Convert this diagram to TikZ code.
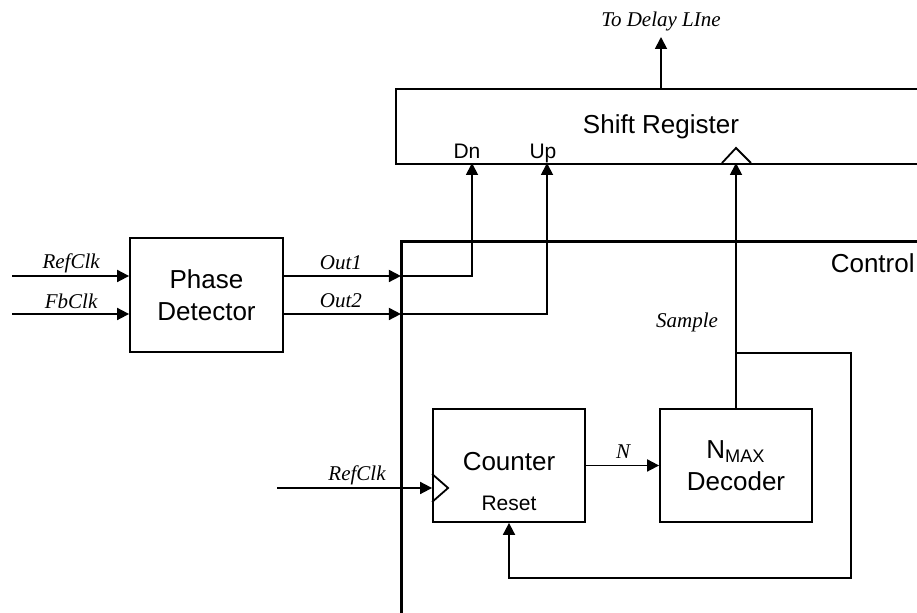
\documentclass[tikz,border=0pt]{standalone}
\usepackage{fontspec}
\setmainfont{Liberation Serif}
\setsansfont{Liberation Sans}
\usetikzlibrary{arrows.meta,calc}

\tikzset{
  blk/.style={draw, line width=0.9pt, minimum width=76pt, minimum height=56.5pt, inner sep=0pt},
  sig/.style={line width=0.9pt},
  arr/.style={sig, -{Triangle[length=6pt,width=6pt]}},
  lbl/.style={font=\itshape\fontsize{10.5}{12}\selectfont, inner sep=0pt},
  txt/.style={font=\sffamily\fontsize{13}{16}\selectfont, align=center, inner sep=0pt},
  pin/.style={font=\sffamily\fontsize{10.5}{12}\selectfont, inner sep=0pt},
}

\begin{document}
\begin{tikzpicture}[x=0.5pt,y=-0.5pt]
\clip (0,0) rectangle (917,613);

% Сдвиговый регистр
\node[draw, line width=0.9pt, anchor=north west, minimum width=280pt, minimum height=37.5pt, inner sep=0pt] (shreg) at (395,88) {};
\node[txt] (shregtxt) at (661,127) {Shift Register};
\node[pin, anchor=base] (dnlbl) at (467,159) {Dn};
\node[pin, anchor=base] (uplbl) at (543,159) {Up};
\coordinate (dn) at (472,163);
\coordinate (up) at (547,163);
\coordinate (clk) at (736,163);
\draw[sig] (722,163) -- (736,148) -- (751,163);

% Выход на линию задержки
\coordinate (srtop) at (661,88);
\coordinate (delay) at (661,37);
\node[lbl] (delaylbl) at (661,21) {To Delay LIne};
\draw[arr] (srtop) -- (delay);

% Блок управления
\node[draw, line width=1.7pt, anchor=north west, minimum width=270pt, minimum height=200pt, inner sep=0pt] (ctrl) at (400,240) {};
\node[txt, anchor=east] (ctrllbl) at (915,263) {Control};

% Фазовый детектор
\node[blk, txt, minimum width=76.5pt, minimum height=57pt] (pd) at (206.5,295) {Phase\\Detector};
\foreach \dy/\inname/\outname/\dest in {-19/RefClk/Out1/dn, 19/FbClk/Out2/up} {
    \draw[arr] ($(pd.west)+(-117,\dy)$) -- ($(pd.west)+(0,\dy)$);
    \node[lbl] at ($(pd.west)+(-58,\dy-13)$) {\inname};
    \draw[arr] ($(pd.east)+(0,\dy)$) -- ($(pd.east)+(117,\dy)$);
    \node[lbl] at ($(pd.east)+(57,\dy-13)$) {\outname};
    \draw[arr] ($(pd.east)+(117,\dy)$) -| (\dest);
}

% Счетчик
\node[blk] (cnt) at (509,465.5) {};
\node[txt] (cnttxt) at (509,462) {Counter};
\node[pin] (rst) at (509,503) {Reset};
\draw[sig] ($(cnt.west)+(0,8.5)$) -- ($(cnt.west)+(16,22.5)$) -- ($(cnt.west)+(0,36.5)$);
\draw[arr] ($(cnt.west)+(-155,22.5)$) -- ($(cnt.west)+(0,22.5)$);
\node[lbl] (clklbl) at (357,475) {RefClk};

% Дешифратор
\node[blk, txt] (dec) at (736,465.5) {N\textsubscript{MAX}\\Decoder};
\draw[arr] (cnt.east) -- (dec.west);
\node[lbl] (nlbl) at (623,452) {N};

% Sample и сброс
\coordinate (tap) at (736,353);
\draw[arr] (dec.north) -- (clk);
\node[lbl] (smplbl) at (687,322) {Sample};
\draw[arr] (tap) -| ($(dec.east)+(38,112.5)$) -| (cnt.south);
\end{tikzpicture}
\end{document}
